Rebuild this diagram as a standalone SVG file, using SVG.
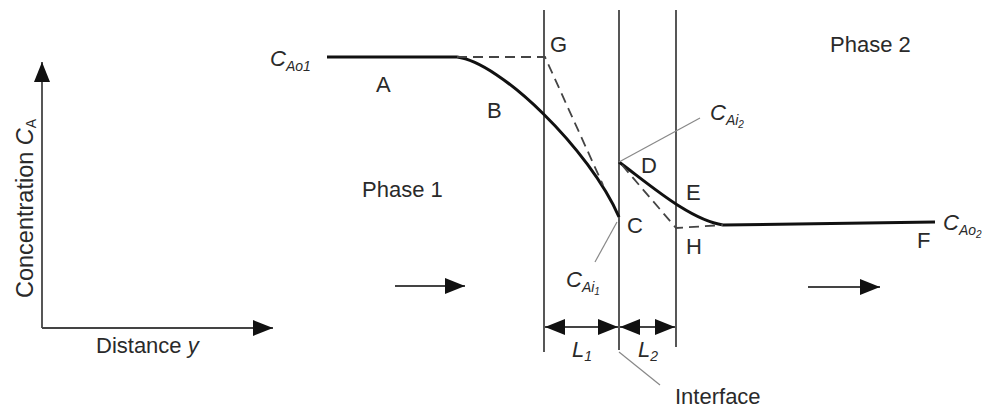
<svg xmlns="http://www.w3.org/2000/svg" width="988" height="408" viewBox="0 0 988 408">
<defs>
<style>
.t{font-family:"Liberation Sans",Arial,sans-serif;font-size:22px;fill:#2a2a2a}
.it{font-style:italic}
.sub{font-size:14px}
.thin{stroke:#444;stroke-width:1.8;fill:none}
.lead{stroke:#888;stroke-width:1.2;fill:none}
.curve{stroke:#111;stroke-width:3;fill:none}
.dash{stroke:#444;stroke-width:1.8;fill:none;stroke-dasharray:10 6}
</style>
<marker id="big" viewBox="0 0 20 16" refX="20" refY="8" markerWidth="22" markerHeight="16" markerUnits="userSpaceOnUse" orient="auto-start-reverse"><path d="M0,0 L20,8 L0,16 z" fill="#111"/></marker>
</defs>
<rect width="988" height="408" fill="#fff"/>

<g id="axes">
<line class="thin" x1="42" y1="328" x2="42" y2="62" marker-end="url(#big)"/>
<line class="thin" x1="42" y1="328" x2="273" y2="328" marker-end="url(#big)"/>
<text class="t" x="96" y="353">Distance <tspan class="it">y</tspan></text>
<text class="t" style="font-size:23.5px" transform="translate(33,298) rotate(-90)">Concentration <tspan class="it">C</tspan><tspan class="sub" dy="3">A</tspan></text>
</g>

<g id="boundaries">
<line class="thin" x1="544" y1="10" x2="544" y2="352"/>
<line class="thin" x1="619" y1="10" x2="619" y2="350"/>
<line class="thin" x1="676" y1="10" x2="676" y2="347"/>
</g>

<g id="connectors">
<path class="curve" d="M327,57 L457,57 C500,62 590,150 619,217"/>
<path class="curve" d="M619,162 C650,185 690,220 723,225 L935,222"/>
<path class="dash" d="M457,57 L545,57 L603,185"/>
<path class="dash" d="M622,165 L676,228 L723,225"/>
<line class="lead" x1="619" y1="162" x2="700" y2="118"/>
<line class="lead" x1="617" y1="222" x2="595" y2="262"/>
<line class="lead" x1="619" y1="352" x2="660" y2="385"/>
<line class="thin" x1="395" y1="286" x2="465" y2="286" marker-end="url(#big)"/>
<line class="thin" x1="808" y1="287" x2="880" y2="287" marker-end="url(#big)"/>
<line class="thin" x1="545" y1="327" x2="618" y2="327" marker-start="url(#big)" marker-end="url(#big)"/>
<line class="thin" x1="620" y1="327" x2="675" y2="327" marker-start="url(#big)" marker-end="url(#big)"/>
</g>

<g id="labels">
<text class="t it" x="270" y="66">C<tspan class="sub" dy="5">Ao1</tspan></text>
<text class="t" x="376" y="92">A</text>
<text class="t" x="487" y="118">B</text>
<text class="t" x="550" y="52">G</text>
<text class="t" x="627" y="233">C</text>
<text class="t" x="641" y="173">D</text>
<text class="t" x="686" y="200">E</text>
<text class="t" x="686" y="254">H</text>
<text class="t" x="917" y="248">F</text>
<text class="t it" x="710" y="120">C<tspan class="sub" dy="5">Ai</tspan><tspan style="font-size:10px" dy="3">2</tspan></text>
<text class="t it" x="566" y="287">C<tspan class="sub" dy="5">Ai</tspan><tspan style="font-size:10px" dy="3">1</tspan></text>
<text class="t it" x="943" y="230">C<tspan class="sub" dy="5">Ao</tspan><tspan style="font-size:10px" dy="3">2</tspan></text>
<text class="t" x="362" y="197">Phase 1</text>
<text class="t" x="830" y="52">Phase 2</text>
<text class="t" x="675" y="404">Interface</text>
<text class="t it" x="572" y="357">L<tspan class="sub" dy="4">1</tspan></text>
<text class="t it" x="638" y="357">L<tspan class="sub" dy="4">2</tspan></text>
</g>
</svg>
